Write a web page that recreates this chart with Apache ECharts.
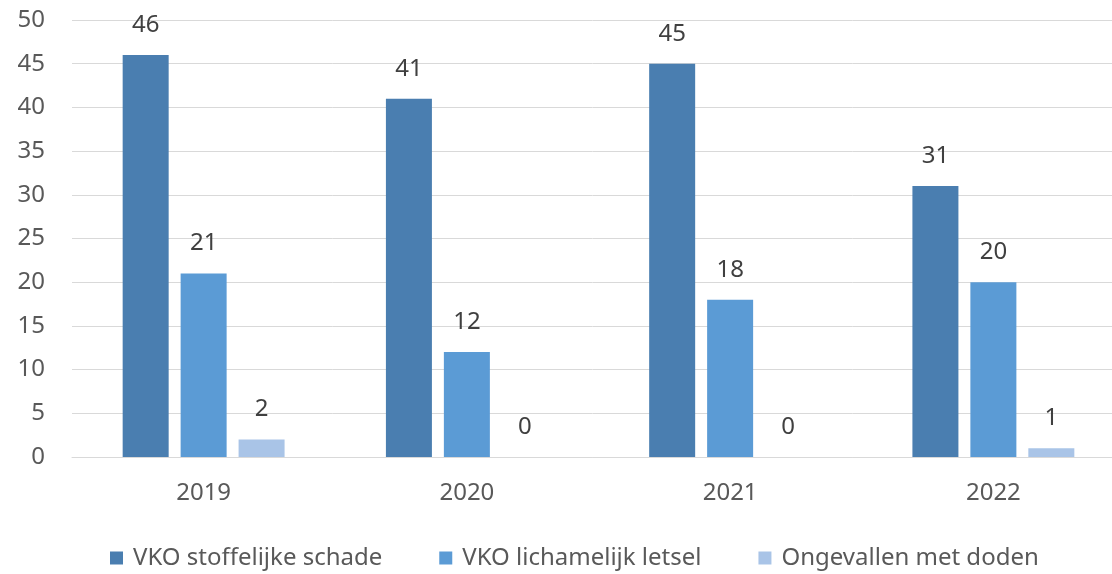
<!DOCTYPE html>
<html>
<head>
<meta charset="utf-8">
<script src="https://cdn.jsdelivr.net/npm/echarts@6/dist/echarts.min.js"></script>
<style>
  html, body { margin: 0; padding: 0; background: #fff; }
  #chart { width: 1112px; height: 574px; }
</style>
</head>
<body>
<div id="chart"></div>
<script>
const years = ['2019', '2020', '2021', '2022'];
const stoffelijk = [46, 41, 45, 31];
const lichamelijk = [21, 12, 18, 20];
const doden = [2, 0, 0, 1];
const seriesNames = ['VKO stoffelijke schade', 'VKO lichamelijk letsel', 'Ongevallen met doden'];
const colors = ['#4A7EB0', '#5B9BD5', '#A9C4E7'];

const chart = echarts.init(document.getElementById('chart'));
const font = 'Noto Sans';

function bar(name, data, color) {
  return {
    name: name,
    type: 'bar',
    data: data,
    barWidth: 46,
    barGap: '26%',
    itemStyle: { color: color },
    label: {
      show: true,
      position: 'top',
      distance: 18,
      color: '#404040',
      fontSize: 24,
      fontFamily: font
    }
  };
}

const option = {
  animation: false,
  color: colors,
  // grid runs past the right edge like the original, so let it overflow
  grid: { left: 72, top: 20, right: -13, bottom: 117, outerBoundsMode: 'none' },
  legend: {
    bottom: -1,
    left: 105,
    itemWidth: 13,
    itemHeight: 13,
    itemGap: 57,
    icon: 'rect',
    textStyle: { color: '#595959', fontSize: 24, fontFamily: font, padding: [0, 0, 0, 5] },
    data: seriesNames
  },
  xAxis: {
    type: 'category',
    data: years,
    axisLine: { lineStyle: { color: '#D9D9D9' } },
    axisTick: { show: false },
    axisLabel: { color: '#595959', fontSize: 24, fontFamily: font, margin: 24 }
  },
  yAxis: {
    type: 'value',
    min: 0,
    max: 50,
    interval: 5,
    axisLine: { show: false },
    axisTick: { show: false },
    splitLine: { lineStyle: { color: '#D9D9D9' } },
    axisLabel: { color: '#595959', fontSize: 24, fontFamily: font, margin: 27 }
  },
  series: [
    bar(seriesNames[0], stoffelijk, colors[0]),
    bar(seriesNames[1], lichamelijk, colors[1]),
    bar(seriesNames[2], doden, colors[2])
  ]
};
chart.setOption(option);
</script>
</body>
</html>
